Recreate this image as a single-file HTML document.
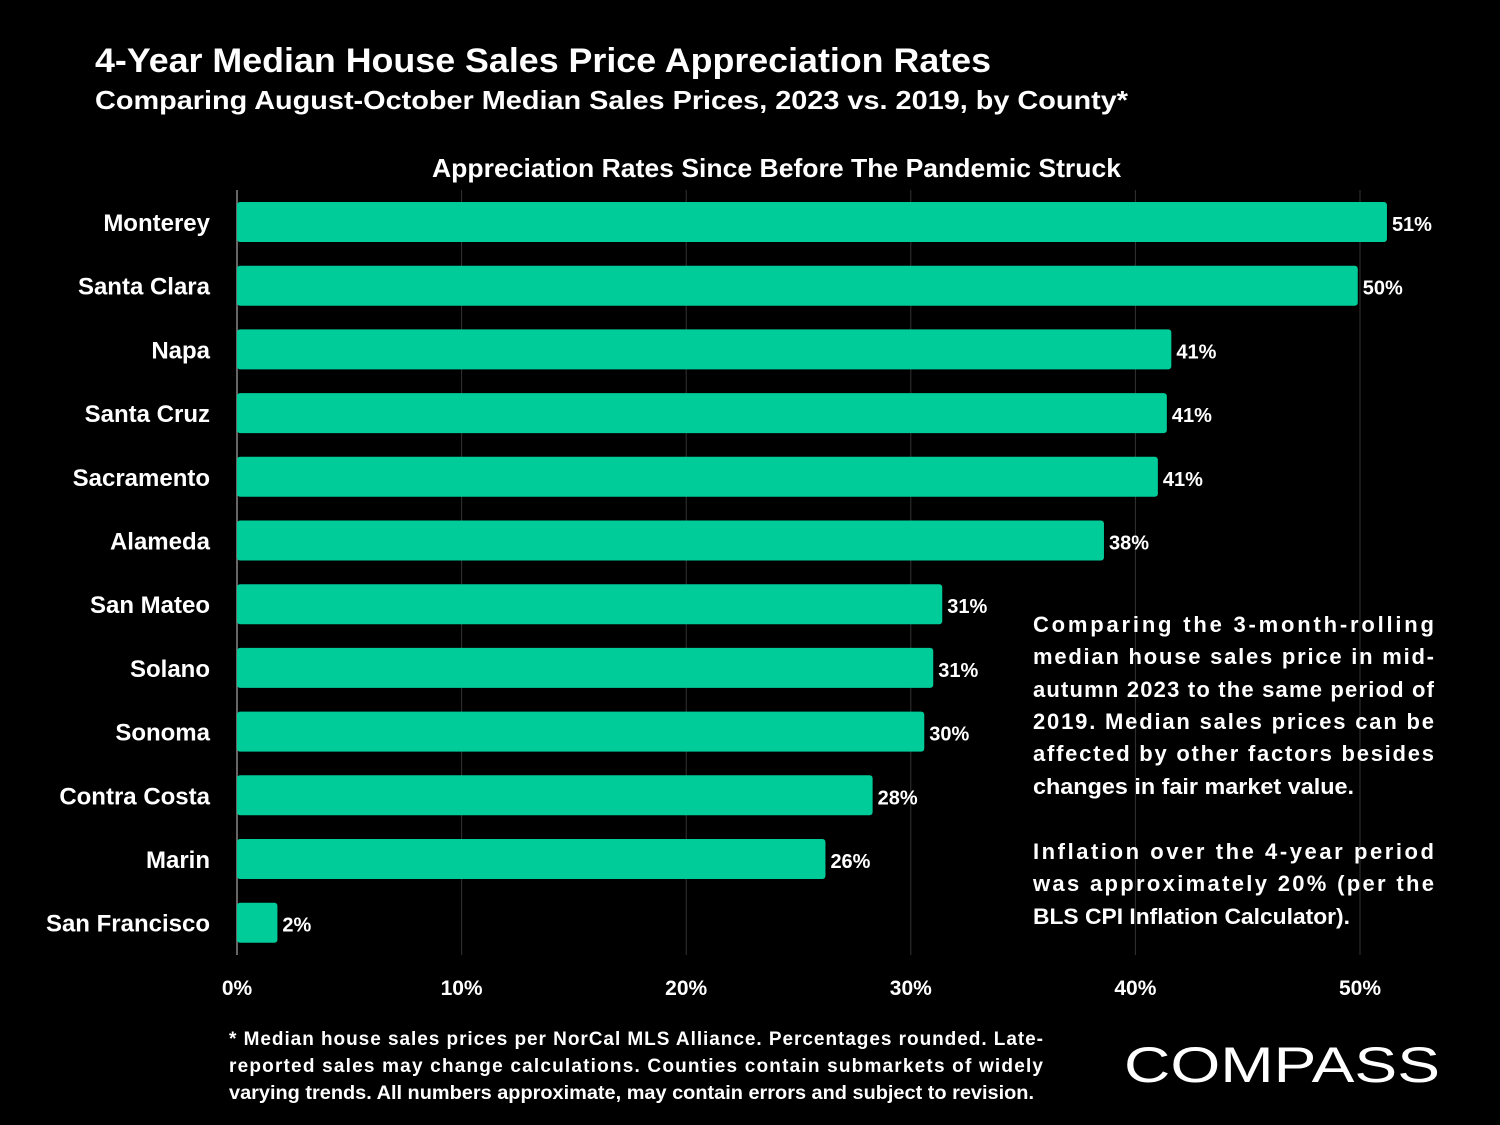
<!DOCTYPE html>
<html><head><meta charset="utf-8"><style>
html,body{margin:0;padding:0;background:#000;}
svg{display:block;font-family:"Liberation Sans",sans-serif;font-weight:bold;}
</style></head><body>
<svg id="chart" width="1500" height="1125" viewBox="0 0 1500 1125">
<rect width="1500" height="1125" fill="#000"/>
<text x="95" y="72" fill="#fff" font-size="34" textLength="896" lengthAdjust="spacingAndGlyphs">4-Year Median House Sales Price Appreciation Rates</text>
<text x="95" y="109" fill="#fff" font-size="26" textLength="1033" lengthAdjust="spacingAndGlyphs">Comparing August-October Median Sales Prices, 2023 vs. 2019, by County*</text>
<text x="432" y="177" fill="#fff" font-size="26" textLength="689" lengthAdjust="spacingAndGlyphs">Appreciation Rates Since Before The Pandemic Struck</text>
<g id="grid"></g>
<g id="bars"></g>
<g id="xticks"></g>
<g fill="#fff" font-size="22">
<text x="1033" y="632" textLength="401" lengthAdjust="spacing">Comparing the 3-month-rolling</text>
<text x="1033" y="664" textLength="401" lengthAdjust="spacing">median house sales price in mid-</text>
<text x="1033" y="697" textLength="401" lengthAdjust="spacing">autumn 2023 to the same period of</text>
<text x="1033" y="729" textLength="401" lengthAdjust="spacing">2019. Median sales prices can be</text>
<text x="1033" y="761" textLength="401" lengthAdjust="spacing">affected by other factors besides</text>
<text x="1033" y="794" textLength="321" lengthAdjust="spacingAndGlyphs">changes in fair market value.</text>
<text x="1033" y="859" textLength="401" lengthAdjust="spacing">Inflation over the 4-year period</text>
<text x="1033" y="891" textLength="401" lengthAdjust="spacing">was approximately 20% (per the</text>
<text x="1033" y="924" textLength="317" lengthAdjust="spacingAndGlyphs">BLS CPI Inflation Calculator).</text>
</g>
<g fill="#fff" font-size="19">
<text x="229" y="1045" textLength="814" lengthAdjust="spacing">* Median house sales prices per NorCal MLS Alliance. Percentages rounded. Late-</text>
<text x="229" y="1072" textLength="814" lengthAdjust="spacing">reported sales may change calculations. Counties contain submarkets of widely</text>
<text x="229" y="1099" textLength="805" lengthAdjust="spacingAndGlyphs">varying trends. All numbers approximate, may contain errors and subject to revision.</text>
</g>
<text x="1124" y="1082" fill="#fff" font-size="50" font-weight="normal" textLength="316" lengthAdjust="spacingAndGlyphs">COMPASS</text>
</svg>
<script>
const categories=["Monterey","Santa Clara","Napa","Santa Cruz","Sacramento","Alameda","San Mateo","Solano","Sonoma","Contra Costa","Marin","San Francisco"];
const values=[51.2,49.9,41.6,41.4,41.0,38.6,31.4,31.0,30.6,28.3,26.2,1.8];
const valueLabels=["51%","50%","41%","41%","41%","38%","31%","31%","30%","28%","26%","2%"];
const tickValues=[0,10,20,30,40,50];
const tickLabels=["0%","10%","20%","30%","40%","50%"];
const NS="http://www.w3.org/2000/svg";
const x0=237,x50=1360;
function xScale(v){return x0+(x50-x0)*v/50;}
function yScale(i){return 222+i*63.7;}
function mk(t,a,p){const e=document.createElementNS(NS,t);for(const k in a)e.setAttribute(k,a[k]);p.appendChild(e);return e;}
const grid=document.getElementById('grid'),bars=document.getElementById('bars'),xt=document.getElementById('xticks');
tickValues.forEach((v,i)=>{
  const l=mk('line',{x1:xScale(v),x2:xScale(v),y1:190,y2:955,stroke:i===0?'#888':'#333','stroke-width':i===0?1.5:1},grid);
  
  
  const t=mk('text',{x:xScale(v),y:995,fill:'#fff','font-size':21,'text-anchor':'middle'},xt);
  t.textContent=tickLabels[i];
  
  
});
categories.forEach((c,i)=>{
  const y=yScale(i);
  const r=mk('rect',{x:x0,y:y-20,width:xScale(values[i])-x0,height:40,rx:3,fill:'#00cc9a'},bars);
  
  
  const lb=mk('text',{x:210,y:y+9,fill:'#fff','font-size':24,'text-anchor':'end'},bars);
  lb.textContent=c;
  
  
  const vl=mk('text',{x:xScale(values[i])+5,y:y+9,fill:'#fff','font-size':20},bars);
  vl.textContent=valueLabels[i];
  
  
});
</script>
</body></html>
